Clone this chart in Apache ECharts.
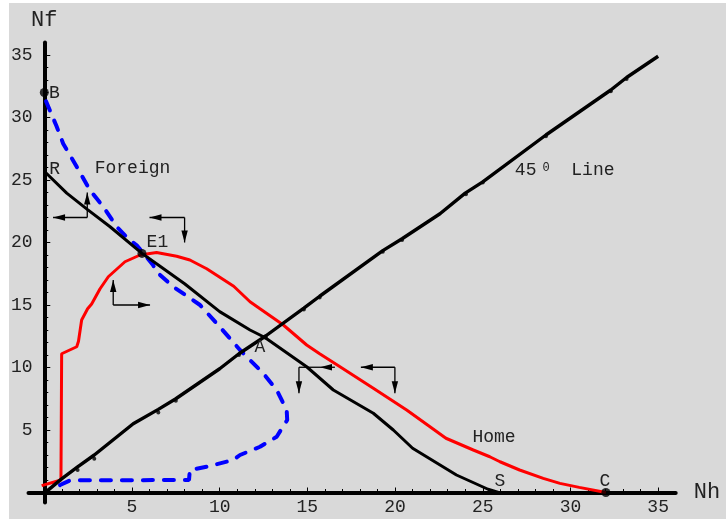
<!DOCTYPE html>
<html>
<head>
<meta charset="utf-8">
<script src="https://cdn.jsdelivr.net/npm/echarts@6/dist/echarts.min.js"></script>
<style>
  html, body { margin: 0; padding: 0; background: #ffffff; }
  #chart { position: absolute; left: 9px; top: 3px; width: 717px; height: 516px; background: #d9d9d9; }
</style>
</head>
<body>
<div id="chart"></div>
<script>
// Home adjustment curve (red)
const homeCurve = [
  [-0.15, 0.55], [0.95, 1.0], [0.99, 1.1], [0.99, 11.1], [1.85, 11.66], [1.95, 12.1],
  [2.13, 13.8], [2.47, 14.7], [2.7, 15.08], [3.18, 16.3], [3.65, 17.26], [4.6, 18.46],
  [5.46, 19.0], [6.4, 19.2], [7.55, 18.9], [8.3, 18.6], [9.26, 17.9], [10.8, 16.5],
  [11.73, 15.26], [12.3, 14.7], [13.63, 13.4], [14.96, 11.8], [15.7, 11.1], [16.86, 10.06],
  [18.76, 8.34], [20.66, 6.6], [21.99, 5.26], [22.9, 4.34], [24.46, 3.4], [25.4, 2.86],
  [25.98, 2.46], [27.1, 1.8], [28.45, 1.13], [29.4, 0.73], [30.5, 0.41], [32.02, 0]
];

// Foreign adjustment path (blue, dashed)
const foreignCurve = [
  [0.1, 31.3], [0.7, 29.3], [1.08, 27.9], [1.85, 26.06], [2.6, 24.2], [3.36, 22.86],
  [4.13, 21.26], [4.79, 20.3], [5.27, 19.78], [6.2, 18.2], [6.4, 17.66], [7.35, 16.46],
  [8.88, 15.0], [10.0, 13.26], [11.16, 11.4], [12.48, 9.54], [13.25, 8.2], [13.82, 6.6],
  [13.85, 5.8], [13.25, 4.46], [12.3, 3.66], [11.16, 3.0], [10.77, 2.6], [9.26, 2.06],
  [8.3, 1.8], [8.25, 1.0], [1.47, 0.97], [0.9, 0.6], [0.42, 0.07]
];

// Boundary R–S (black)
const boundaryRS = [
  [0, 25.7], [1.28, 23.95], [2.45, 22.65], [3.75, 21.26], [5.57, 19.13], [6.5, 18.2],
  [8.0, 16.7], [10.0, 14.47], [11.73, 13.0], [12.58, 12.4], [14.96, 10.06], [16.48, 8.2],
  [18.76, 6.34], [19.9, 5.0], [21.0, 3.54], [23.5, 1.4], [25.3, 0.26], [25.9, 0]
];

// 45 degree line and its sample points
const line45 = [
  [0.1, 0.05], [0.95, 1.05], [1.9, 2.05], [2.85, 3.0], [5.07, 5.5], [6.5, 6.65], [7.5, 7.5],
  [10, 9.9], [11.1, 11.1], [12.6, 12.5], [14.8, 14.75], [15.7, 15.7], [19.3, 19.35],
  [20.4, 20.3], [22.56, 22.3], [24, 23.95], [25, 24.85], [28.6, 28.6], [32.3, 32.2],
  [33.2, 33.2], [35, 34.9]
];
const samples45 = [
  [1.9, 1.8], [2.85, 2.7], [6.5, 6.4], [7.5, 7.35], [11.1, 11.0], [14.8, 14.65], [15.7, 15.6],
  [19.3, 19.26], [20.4, 20.2], [24.04, 23.86], [25, 24.8], [28.6, 28.5], [32.3, 32.1], [33.2, 33.08]
];

// Named equilibrium / corner points
const bigPoints = [[0, 32], [5.57, 19.13], [32.02, 0]];
const smallPoints = [[12.6, 12.45]];

// Direction arrows: [fromX, fromY, toX, toY, hasHead]
const arrows = [
  [2.45, 22, 0.5, 22, 1], [2.45, 22, 2.45, 24, 1],
  [8, 22, 6, 22, 1], [8, 22, 8, 20, 1],
  [3.93, 15, 3.93, 17, 1], [3.93, 15, 6.03, 15, 1],
  [14.52, 10.02, 15.72, 10.02, 0], [16.57, 10.02, 15.72, 10.02, 1], [14.52, 10.02, 14.52, 7.94, 1],
  [19.99, 10.02, 18.05, 10.02, 1], [19.99, 10.02, 19.99, 7.94, 1]
];

// Text annotations
const noteText = ['B', 'R', 'Foreign', 'E1', 'A', '45{s|0}  Line', 'Home', 'S', 'C'];
const notePos = [
  [0.58, 31.96], [0.59, 25.88], [5.03, 25.92], [6.45, 20.04], [12.3, 11.6],
  [26.83, 25.76], [25.64, 4.4], [25.98, 0.88], [31.97, 0.92]
];
const noteAlign = ['center', 'center', 'center', 'center', 'center', 'left', 'center', 'center', 'center'];

const majorTicks = [5, 10, 15, 20, 25, 30, 35];
const minorTicks = [];
for (let i = 1; i <= 35; i++) minorTicks.push(i);

const FONT = 'Liberation Mono';
const TEXT_COLOR = '#222';

function valueAxis(major, name, isY) {
  return [
    {
      type: 'value', min: isY ? -0.8 : -0.9, max: 36,
      position: isY ? 'left' : 'bottom',
      name: name, nameLocation: 'end', nameGap: isY ? 11 : 18,
      nameTextStyle: { fontFamily: FONT, fontSize: 22, color: TEXT_COLOR },
      axisLine: { show: true, onZero: true, lineStyle: { color: '#000', width: 4 } },
      axisTick: { show: true, inside: true, length: isY ? 6 : 5, customValues: major,
        lineStyle: { color: '#000', width: 1 } },
      axisLabel: { show: true, customValues: major, margin: isY ? -4 : -4,
        fontFamily: FONT, fontSize: 18, color: TEXT_COLOR },
      splitLine: { show: false }
    },
    {
      type: 'value', min: isY ? -0.8 : -0.9, max: 36,
      position: isY ? 'left' : 'bottom',
      axisLine: { show: false, onZero: true, onZeroAxisIndex: 0 },
      axisTick: { show: true, inside: true, length: isY ? 4 : 3.5, customValues: minorTicks,
        lineStyle: { color: '#000', width: 1 } },
      axisLabel: { show: false },
      splitLine: { show: false }
    }
  ];
}

function renderArrow(params, api) {
  const a = api.coord([api.value(0), api.value(1)]);
  const b = api.coord([api.value(2), api.value(3)]);
  const head = api.value(4);
  const dx = b[0] - a[0], dy = b[1] - a[1];
  const len = Math.hypot(dx, dy) || 1;
  const ux = dx / len, uy = dy / len;
  const hl = 12, hw = 3.2;
  const bx = b[0] - ux * hl, by = b[1] - uy * hl;
  const children = [{
    type: 'line',
    shape: { x1: a[0], y1: a[1], x2: b[0], y2: b[1] },
    style: { stroke: '#000', lineWidth: 1.3 }
  }];
  if (head) {
    children.push({
      type: 'polygon',
      shape: { points: [[b[0], b[1]], [bx - uy * hw, by + ux * hw], [bx + uy * hw, by - ux * hw]] },
      style: { fill: '#000' }
    });
  }
  return { type: 'group', children: children };
}

function renderNote(params, api) {
  const p = api.coord([api.value(0), api.value(1)]);
  const i = api.value(2);
  return {
    type: 'text', x: p[0], y: p[1],
    style: {
      text: noteText[i], fill: TEXT_COLOR,
      font: '18px "' + FONT + '"',
      align: noteAlign[i], verticalAlign: 'middle',
      rich: { s: { fontSize: 12, fontFamily: FONT, fill: TEXT_COLOR, verticalAlign: 'top', padding: [0, 0, 0, 6] } }
    }
  };
}

const chart = echarts.init(document.getElementById('chart'), null, { renderer: 'canvas' });
const xAxes = valueAxis(majorTicks, 'Nh', false);
const yAxes = valueAxis(majorTicks, 'Nf', true);

chart.setOption({
  animation: false,
  backgroundColor: '#d9d9d9',
  grid: { left: 19.5, top: 39.5, width: 647.2, height: 460, containLabel: false, outerBoundsMode: 'none' },
  xAxis: xAxes,
  yAxis: yAxes,
  series: [
    {
      type: 'line', name: 'Home', data: homeCurve, showSymbol: false, symbol: 'none',
      lineStyle: { color: '#ff0000', width: 3 }, z: 2
    },
    {
      type: 'line', name: 'Foreign', data: foreignCurve, showSymbol: false, symbol: 'none',
      lineStyle: { color: '#0000ff', width: 4, type: [10, 11], cap: 'round' }, z: 3
    },
    {
      type: 'line', name: 'RS', data: boundaryRS, showSymbol: false, symbol: 'none',
      lineStyle: { color: '#000', width: 3 }, z: 4
    },
    {
      type: 'line', name: '45', data: line45, showSymbol: false, symbol: 'none',
      lineStyle: { color: '#000', width: 3.4 }, z: 4
    },
    {
      type: 'scatter', data: samples45, symbol: 'circle', symbolSize: 4,
      itemStyle: { color: '#000' }, z: 5
    },
    {
      type: 'scatter', data: bigPoints, symbol: 'circle', symbolSize: 9,
      itemStyle: { color: '#000' }, z: 6
    },
    {
      type: 'scatter', data: smallPoints, symbol: 'circle', symbolSize: 5,
      itemStyle: { color: '#000' }, z: 6
    },
    {
      type: 'custom', data: arrows, renderItem: renderArrow, clip: false,
      encode: { x: [0, 2], y: [1, 3] }, z: 7
    },
    {
      type: 'custom', data: notePos.map((p, i) => [p[0], p[1], i]), renderItem: renderNote,
      clip: false, encode: { x: 0, y: 1 }, z: 8
    }
  ]
});
</script>
</body>
</html>
